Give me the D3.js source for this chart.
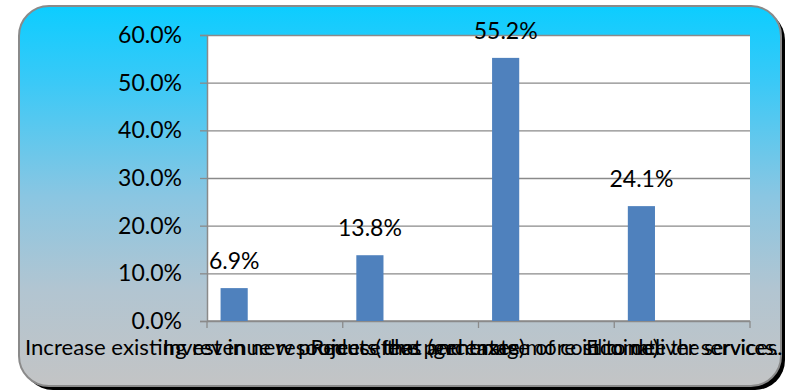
<!DOCTYPE html>
<html>
<head>
<meta charset="utf-8">
<script src="https://cdn.jsdelivr.net/npm/d3@7"></script>
<style>
  html, body { margin: 0; padding: 0; background: #ffffff; }
  svg { display: block; }
  text { font-family: Lato, "Open Sans", sans-serif; fill: #000; }
</style>
</head>
<body>
<svg id="chart" width="788" height="392"></svg>
<script>
// Survey responses (share of respondents)
const categories = [
  "Increase existing revenue resources (fees and taxes)",
  "Invest in new projects that (generate more income)",
  "Reduce the percentage of cost to deliver services.",
  "Eliminate the services."
];
const values = [0.069, 0.138, 0.552, 0.241];
const valueLabels = ["6.9%", "13.8%", "55.2%", "24.1%"];
const yTicks = [0, 0.1, 0.2, 0.3, 0.4, 0.5, 0.6];
// Set width of each category caption (the captions run into each other)
const captionWidths = [500, 496, 472, 192];

const svg = d3.select("#chart");

// Frame geometry
const frame = { x: 19, y: 6, w: 762, h: 380, r: 30 };
const plot = { left: 207, right: 750, top: 35, bottom: 321 };

const defs = svg.append("defs");
const grad = defs.append("linearGradient")
  .attr("id", "bg").attr("x1", 0).attr("y1", 0).attr("x2", 0).attr("y2", 1);
[
  [0, "#0ccdff"],
  [0.2, "#3ac9f7"],
  [0.5, "#8ac6e2"],
  [0.75, "#b2c5d1"],
  [1, "#c3c4c5"]
].forEach(([o, c]) => grad.append("stop").attr("offset", o).attr("stop-color", c));

// Drop shadow
svg.append("rect")
  .attr("x", frame.x + 4).attr("y", frame.y + 4)
  .attr("width", frame.w).attr("height", frame.h)
  .attr("rx", frame.r).attr("ry", frame.r)
  .attr("fill", "#000");

// Chart frame
svg.append("rect")
  .attr("x", frame.x).attr("y", frame.y)
  .attr("width", frame.w).attr("height", frame.h)
  .attr("rx", frame.r).attr("ry", frame.r)
  .attr("fill", "url(#bg)")
  .attr("stroke", "#8a8a8a").attr("stroke-width", 2);

// Plot area
svg.append("rect")
  .attr("x", plot.left).attr("y", plot.top)
  .attr("width", plot.right - plot.left).attr("height", plot.bottom - plot.top)
  .attr("fill", "#fff");

const x = d3.scaleBand().domain(categories).range([plot.left, plot.right]).padding(0);
const y = d3.scaleLinear().domain([0, 0.6]).range([plot.bottom, plot.top]);

// Horizontal gridlines
svg.append("g")
  .attr("transform", `translate(${plot.left},0)`)
  .call(d3.axisLeft(y).tickValues(yTicks).tickSize(-(plot.right - plot.left)).tickFormat(""))
  .call(g => g.select(".domain").remove())
  .call(g => g.selectAll("line").attr("stroke", "#8a8a8a").attr("stroke-width", 1.3));

// Y axis
svg.append("g")
  .attr("transform", `translate(${plot.left},0)`)
  .call(d3.axisLeft(y).tickValues(yTicks).tickSize(7).tickPadding(18).tickFormat(d3.format(".1%")))
  .call(g => g.select(".domain").attr("stroke", "#8a8a8a").attr("stroke-width", 1.5))
  .call(g => g.selectAll("line").attr("stroke", "#8a8a8a").attr("stroke-width", 1.3))
  .call(g => g.selectAll("text").attr("font-size", 23).attr("font-family", "Lato, sans-serif").attr("fill", "#000"));

// X axis (ticks on band boundaries)
const xAxis = svg.append("g").attr("transform", `translate(0,${plot.bottom})`);
xAxis.append("line")
  .attr("x1", plot.left).attr("x2", plot.right)
  .attr("stroke", "#8a8a8a").attr("stroke-width", 1.5);
const boundaries = categories.map(c => x(c)).concat([plot.right]);
xAxis.selectAll("line.tick").data(boundaries).join("line")
  .attr("class", "tick")
  .attr("x1", d => d).attr("x2", d => d).attr("y1", 0).attr("y2", 7)
  .attr("stroke", "#8a8a8a").attr("stroke-width", 1.3);
xAxis.selectAll("text").data(categories).join("text")
  .attr("x", d => x(d) + x.bandwidth() / 2)
  .attr("y", 34)
  .attr("text-anchor", "middle")
  .attr("font-size", 22)
  .attr("textLength", (d, i) => captionWidths[i])
  .attr("lengthAdjust", "spacingAndGlyphs")
  .text(d => d);

// Bars
const barOffset = x.bandwidth() * 0.1;
const barWidth = x.bandwidth() * 0.2;
svg.append("g").selectAll("rect").data(values).join("rect")
  .attr("x", (d, i) => x(categories[i]) + barOffset)
  .attr("width", barWidth)
  .attr("y", d => y(d))
  .attr("height", d => y(0) - y(d))
  .attr("fill", "#4f81bd");

// Value labels
svg.append("g").selectAll("text").data(values).join("text")
  .attr("x", (d, i) => x(categories[i]) + barOffset + barWidth / 2)
  .attr("y", d => y(d) - 19)
  .attr("text-anchor", "middle")
  .attr("font-size", 23)
  .text((d, i) => valueLabels[i]);
</script>
</body>
</html>
